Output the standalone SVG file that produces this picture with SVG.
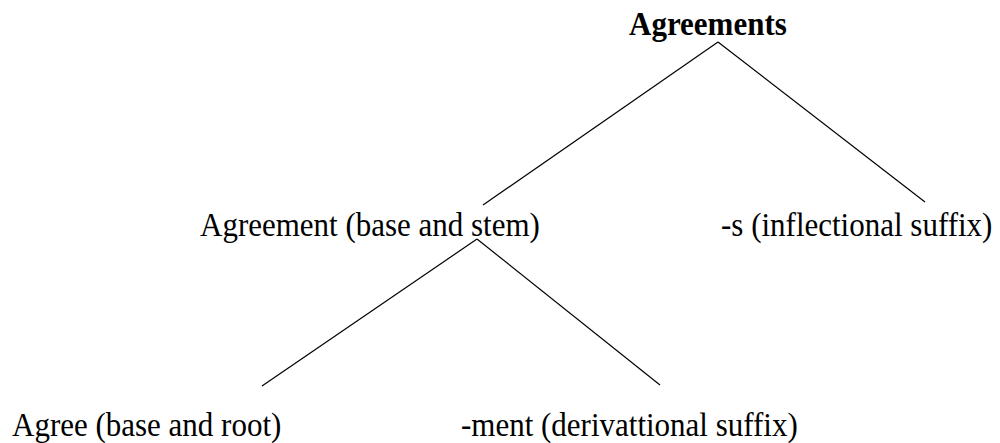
<svg xmlns="http://www.w3.org/2000/svg" width="1000" height="443" viewBox="0 0 1000 443">
<style>
text{font-family:"Liberation Serif","Times New Roman",serif;font-size:31px;fill:#000}
.b{font-weight:bold}
line{stroke:#000;stroke-width:1.2}
</style>
<rect width="1000" height="443" fill="#fff"/>
<g id="connectors">
<line x1="718" y1="42" x2="483" y2="205"/>
<line x1="718" y1="42" x2="925" y2="202"/>
<line x1="477" y1="239" x2="262" y2="386"/>
<line x1="477" y1="239" x2="660" y2="385"/>
</g>
<g id="agreements"><text class="b" transform="translate(629 35) scale(1 1.1)">Agreements</text></g>
<g id="agreement"><text transform="translate(200 236) scale(1 1.1)">Agreement (base and stem)</text></g>
<g id="s-suffix"><text transform="translate(721 236) scale(1 1.1)">-s (inflectional suffix)</text></g>
<g id="agree"><text transform="translate(12 436) scale(1 1.1)">Agree (base and root)</text></g>
<g id="ment-suffix"><text transform="translate(461 436) scale(1 1.1)">-ment (derivattional suffix)</text></g>
</svg>
